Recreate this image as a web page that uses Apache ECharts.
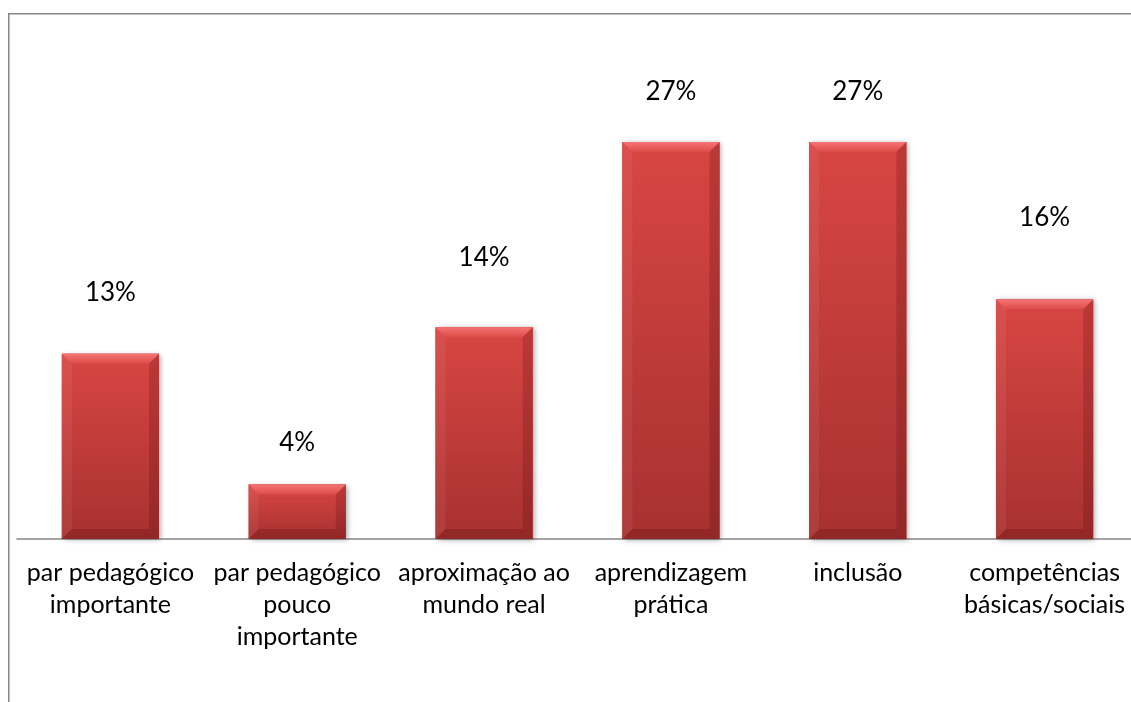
<!DOCTYPE html>
<html>
<head>
<meta charset="utf-8">
<script src="https://cdn.jsdelivr.net/npm/echarts@6/dist/echarts.min.js"></script>
<style>
html,body{margin:0;padding:0;background:#fff;}
#c{width:1131px;height:702px;}
</style>
</head>
<body>
<div id="c"></div>
<script>
const categories = ['par pedagógico\nimportante', 'par pedagógico\npouco\nimportante', 'aproximação ao\nmundo real', 'aprendizagem\nprática', 'inclusão', 'competências\nbásicas/sociais'];
const values = [12.6, 3.7, 14.4, 27.0, 27.0, 16.3];
const valueLabels = ['13%', '4%', '14%', '27%', '27%', '16%'];
// label lift above bar top (px), as placed in the original
const labelGap = [61, 42, 70, 50, 50, 82];

const FONT = 'Lato, "Open Sans", sans-serif';
const chart = echarts.init(document.getElementById('c'));

function renderItem(params, api) {
  const i = api.value(0), v = api.value(1);
  const top = api.coord([i, v]);
  const base = api.coord([i, 0]);
  const bw = api.size([1, 0])[0] * 0.52;
  const x0 = top[0] - bw / 2, x1 = top[0] + bw / 2, y0 = top[1], y1 = base[1];
  const h = y1 - y0;
  const b = Math.min(10, h / 2);
  const lin = (c0, c1) => ({ type: 'linear', x: 0, y: 0, x2: 0, y2: 1, colorStops: [{ offset: 0, color: c0 }, { offset: 1, color: c1 }] });
  return {
    type: 'group',
    children: [
      { type: 'rect', shape: { x: x0, y: y0, width: bw, height: h },
        style: { fill: '#b03432', shadowBlur: 5, shadowColor: 'rgba(0,0,0,0.35)', shadowOffsetX: 2, shadowOffsetY: 1 } },
      { type: 'rect', shape: { x: x0, y: y0, width: bw, height: h }, style: { fill: lin('#d84643', '#a73130') } },
      { type: 'polygon', shape: { points: [[x0, y0], [x1, y0], [x1 - b, y0 + b], [x0 + b, y0 + b]] }, style: { fill: lin('#f57474', '#dc4b48') } },
      { type: 'polygon', shape: { points: [[x0, y0], [x0 + b, y0 + b], [x0 + b, y1 - b], [x0, y1]] }, style: { fill: 'rgba(255,255,255,0.06)' } },
      { type: 'polygon', shape: { points: [[x1, y0], [x1 - b, y0 + b], [x1 - b, y1 - b], [x1, y1]] }, style: { fill: 'rgba(60,0,0,0.18)' } },
      { type: 'polygon', shape: { points: [[x0, y1], [x0 + b, y1 - b], [x1 - b, y1 - b], [x1, y1]] }, style: { fill: 'rgba(60,0,0,0.2)' } },
      { type: 'text', style: { text: valueLabels[i], x: top[0], y: y0 - labelGap[i], align: 'center', verticalAlign: 'middle', fontFamily: FONT, fontSize: 26, fill: '#000' } }
    ]
  };
}

chart.setOption({
  animation: false,
  backgroundColor: '#fff',
  graphic: [{
    type: 'rect', shape: { x: 8.75, y: 13.75, width: 1300, height: 900 },
    style: { fill: 'none', stroke: '#868686', lineWidth: 1.5 }, z: 10, silent: true
  }],
  grid: { left: 17, top: 98, width: 1121, height: 441, containLabel: false, outerBoundsMode: 'none' },
  xAxis: {
    type: 'category', data: categories,
    axisLine: { lineStyle: { color: '#868686', width: 1.5 } },
    axisTick: { show: false },
    axisLabel: { interval: 0, color: '#000', fontFamily: FONT, fontSize: 25, lineHeight: 32, margin: 18 }
  },
  yAxis: { type: 'value', min: 0, max: 30, show: false, splitLine: { show: false } },
  series: [{
    type: 'custom', renderItem: renderItem,
    data: values.map((v, i) => [i, v]),
    encode: { x: 0, y: 1 }
  }]
});
</script>
</body>
</html>
